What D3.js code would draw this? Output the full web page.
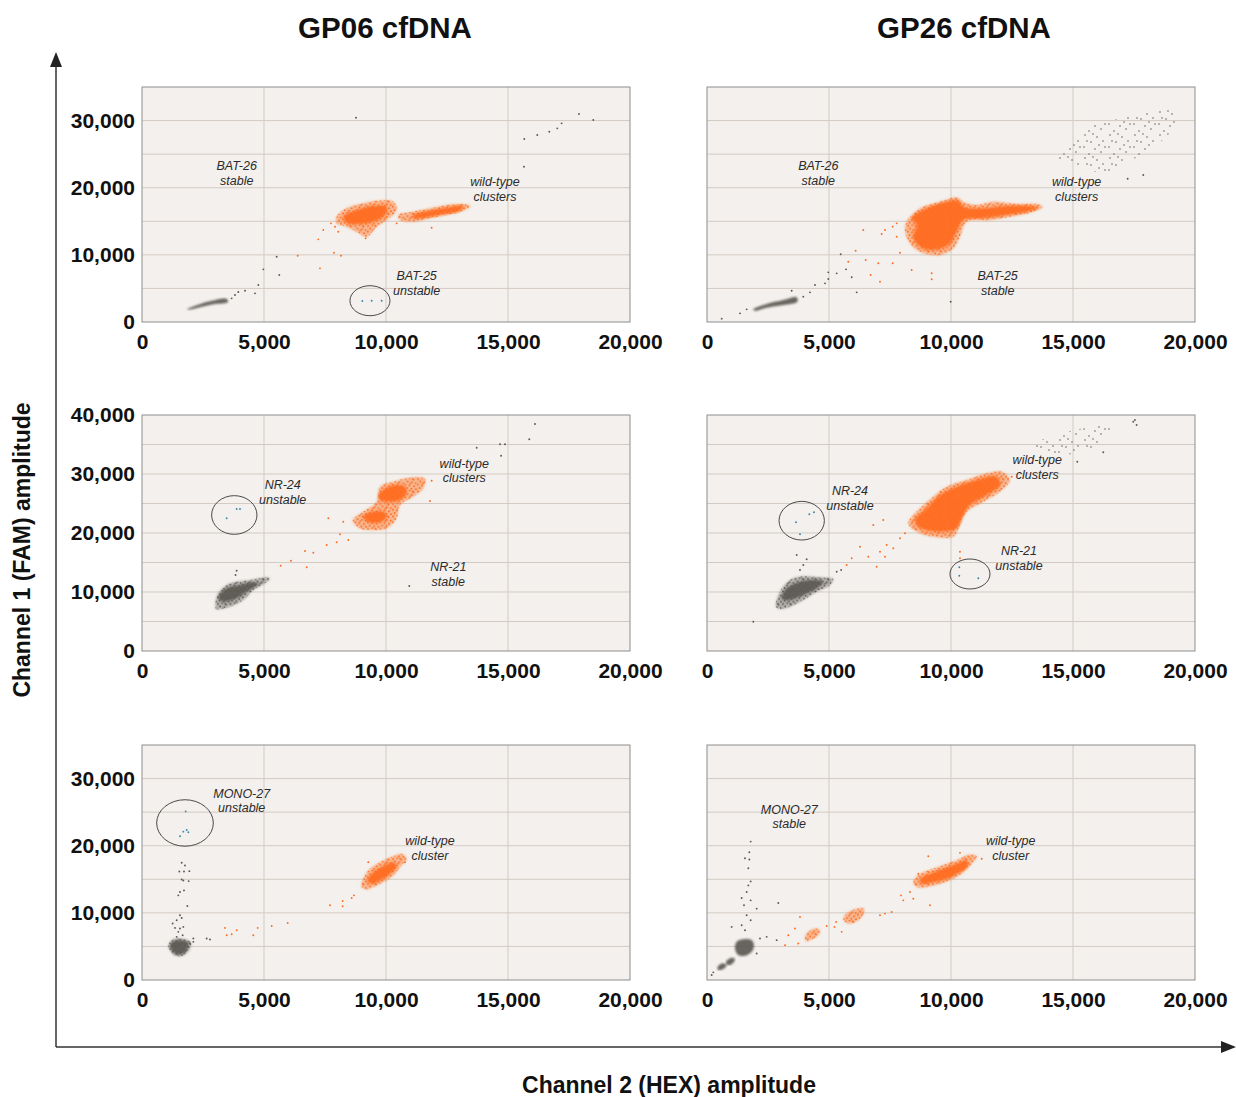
<!DOCTYPE html>
<html>
<head>
<meta charset="utf-8">
<script src="https://cdn.jsdelivr.net/npm/d3@7"></script>
<style>
  body { margin: 0; background: #ffffff; }
  svg { display: block; font-family: "Liberation Sans", Arial, Helvetica, sans-serif; }
  .tick text { font-size: 21px; font-weight: bold; fill: #111; }
  .note { font-size: 12.5px; font-style: italic; fill: #2b2b2b; }
</style>
</head>
<body>
<svg id="chart" width="1236" height="1097"></svg>
<script>
// ddPCR 2D amplitude plots, MSI markers for two cfDNA samples

// Axis values
var columnTitles = ["GP06 cfDNA", "GP26 cfDNA"];
var xTickValues = [0, 5000, 10000, 15000, 20000];
var xMax = 20000;
var rowYMax = [35000, 40000, 35000];
var rowYTicks = [[0, 10000, 20000, 30000], [0, 10000, 20000, 30000, 40000], [0, 10000, 20000, 30000]];
var gridStep = 5000;

// Cluster outlines [HEX, FAM]
// type: wt = wild-type droplets, neg = negative droplets, mut = mutant droplets
// level: sparse / body / core = how dense the droplets are inside the outline
var gp06BatClusters = [
    {type: "neg", level: "core", pts: [[1857,1890],[2240,2485],[2787,3080],[3470,3425],[3525,2978],[2924,2630],[2377,2188],[1940,1840]]},
    {type: "wt", level: "body", pts: [[7978,15680],[8388,16930],[9070,17670],[9617,18060],[10300,17920],[10437,16677],[10027,15188],[9617,14190],[9207,12700],[8798,13450],[8388,14190],[7978,14690]]},
    {type: "wt", level: "core", pts: [[8250,15680],[8798,16677],[9480,17272],[10027,17172],[9958,15932],[9480,14938],[8934,14592],[8388,14790]]},
    {type: "wt", level: "body", pts: [[10504,15932],[11119,16430],[11802,16925],[12485,17421],[13168,17570],[13469,17272],[13168,16575],[12485,15932],[11802,15436],[11119,14938],[10573,15188]]},
    {type: "wt", level: "core", pts: [[11119,15932],[11802,16575],[12485,17019],[13168,17272],[13032,16575],[12348,16081],[11667,15590],[11119,15440]]}
];
var gp26BatClusters = [
    {type: "neg", level: "core", pts: [[1898,1886],[2445,2680],[3128,3276],[3675,3673],[3702,3027],[3128,2531],[2445,2134],[1967,1687]]},
    {type: "neg", level: "sparse", pts: [[13987,24374],[14876,26847],[15216,28589],[16105,29586],[16925,30331],[17880,31075],[18839,31567],[19314,31910],[19248,30331],[18904,27845],[17880,25119],[17199,23630],[16515,22141],[15421,22886],[14397,24226]]},
    {type: "wt", level: "body", pts: [[8184,14935],[8729,16930],[9548,17913],[10233,18567],[10503,17913],[11052,17421],[11733,17913],[12691,17570],[13511,17570],[13757,17168],[13372,16424],[12417,15680],[11597,15188],[10642,14935],[10368,12700],[10093,10974],[9548,9976],[8729,10468],[8319,11718],[8114,13699]]},
    {type: "wt", level: "core", pts: [[8388,15440],[9003,16930],[9823,17913],[10298,18062],[10503,17168],[11323,16930],[12282,17272],[13237,17272],[13577,17019],[13101,16424],[12282,15932],[11323,15440],[10503,15188],[10233,13446],[9889,11465],[9274,10721],[8729,11212],[8454,12700],[8593,14443]]}
];
var gp06NrClusters = [
    {type: "neg", level: "body", pts: [[3033,7119],[3087,9492],[3469,11187],[3879,11746],[4426,12035],[4972,12425],[5245,12323],[5041,11475],[4562,10340],[4152,8645],[3606,7509],[3196,7119]]},
    {type: "neg", level: "core", pts: [[3128,9204],[3469,10628],[4016,11187],[4562,11645],[4766,11357],[4290,10052],[3879,8933],[3401,8357],[3168,8645]]},
    {type: "wt", level: "body", pts: [[8634,22205],[9070,23611],[9618,25306],[9753,27849],[10299,28697],[10983,29374],[11597,29154],[11528,27578],[11118,26154],[10573,24747],[10437,22493],[10028,20797],[9618,20510],[8934,20797]]},
    {type: "wt", level: "core", pts: [[9070,22764],[9343,23510],[9889,23611],[10028,22764],[9753,21815],[9275,21815]]},
    {type: "wt", level: "core", pts: [[9684,26442],[10028,27680],[10437,28137],[10778,27849],[10846,26730],[10573,25595],[10094,25306],[9753,25595]]}
];
var gp26NrClusters = [
    {type: "neg", level: "body", pts: [[2828,7509],[2992,10052],[3401,12035],[3811,12594],[4356,12594],[4905,12425],[5176,12204],[5041,11187],[4496,10052],[3947,8645],[3401,7509],[2992,7119]]},
    {type: "neg", level: "core", pts: [[3061,9204],[3266,10628],[3811,11746],[4356,12035],[4766,11746],[4496,10628],[3947,9492],[3401,8645],[3128,8645]]},
    {type: "neg", level: "sparse", pts: [[13237,34799],[13921,36154],[14741,37172],[15421,37747],[16105,38188],[16650,38307],[16789,37460],[16515,36053],[16105,34629],[15421,34070],[14741,33222],[14192,33510],[13781,34070]]},
    {type: "wt", level: "body", pts: [[8250,21645],[8593,23611],[9274,26154],[9823,27849],[10642,28985],[11462,30121],[12077,30392],[12417,28985],[12007,27002],[11323,25306],[10642,23611],[10368,21357],[10093,19374],[9274,19374],[8729,19950]]},
    {type: "wt", level: "core", pts: [[8524,22205],[9003,24187],[9548,26442],[10233,27849],[11052,28985],[11872,29544],[12007,28137],[11462,26442],[10778,24747],[10503,23052],[10233,20797],[9548,20222],[9003,20510],[8659,21069]]}
];
var gp06MonoClusters = [
    {type: "neg", level: "body", pts: [[1080,5100],[1250,6000],[1650,6150],[2000,5600],[1950,4500],[1720,3700],[1380,3600],[1150,4400]]},
    {type: "neg", level: "core", pts: [[1147,5190],[1284,5784],[1625,5932],[1899,5586],[1858,4697],[1694,3955],[1421,3806],[1216,4449]]},
    {type: "wt", level: "body", pts: [[9003,13837],[9070,15082],[9343,16565],[9753,17544],[10299,18434],[10642,18790],[10846,18048],[10573,16802],[10299,15572],[9889,14578],[9479,13837],[9208,13495]]},
    {type: "wt", level: "core", pts: [[9233,14830],[9479,16061],[9889,16951],[10299,17544],[10437,16951],[10163,15823],[9753,14830],[9413,14340]]}
];
var gp26MonoClusters = [
    {type: "neg", level: "core", pts: [[1147,4697],[1216,5685],[1489,6080],[1831,5932],[1926,5190],[1831,4200],[1557,3608],[1284,3707]]},
    {type: "neg", level: "core", pts: [[779,2719],[1011,3312],[1147,3114],[1052,2471],[833,2225]]},
    {type: "neg", level: "core", pts: [[423,1829],[601,2471],[806,2225],[669,1631],[464,1483]]},
    {type: "wt", level: "body", pts: [[8455,14578],[8729,15823],[9274,16565],[9823,17306],[10368,18048],[10708,18641],[11052,18434],[10847,17306],[10503,16061],[10093,15082],[9548,14340],[9003,13837],[8593,13837]]},
    {type: "wt", level: "core", pts: [[8729,14978],[9139,15823],[9684,16565],[10233,17306],[10642,17796],[10708,17054],[10368,16061],[9823,15082],[9274,14578],[8798,14340]]},
    {type: "wt", level: "body", pts: [[5586,9046],[5725,9891],[6065,10529],[6434,10628],[6380,9640],[6135,8750],[5790,8404]]},
    {type: "wt", level: "body", pts: [[4016,6426],[4151,7168],[4426,7662],[4631,7415],[4561,6674],[4290,6080],[4057,5784]]}
];

// Single droplets [HEX, FAM, type]
var gp06BatDrops = [
    [8770,30420,"neg"],[15654,23125,"neg"],[15668,27250,"neg"],[16200,27845,"neg"],[16692,28340,"neg"],[17020,28840,"neg"],
    [17197,29585,"neg"],[17908,30970,"neg"],[18495,30078,"neg"],[4972,7843,"neg"],[5519,9725,"neg"],[5628,6998,"neg"],
    [4767,5509,"neg"],[4631,4268,"neg"],[4221,4665,"neg"],[3946,4467,"neg"],[3811,4020,"neg"],[3674,3524,"neg"],
    [6380,9875,"wt"],[7294,7990,"wt"],[7226,12310,"wt"],[7431,13700,"wt"],[7745,14690,"wt"],[7868,10320,"wt"],
    [8155,9875,"wt"],[9165,12460,"wt"],[11871,14045,"wt"],[7909,14190,"wt"],[8045,13446,"wt"],[10437,14696,"wt"],
    [9030,3127,"mut"],[9413,3176,"mut"],[9822,3176,"mut"]
];
var gp26BatDrops = [
    [602,496,"neg"],[1352,1290,"neg"],[1626,1886,"neg"],[3470,4665,"neg"],[3947,3772,"neg"],[4221,4417,"neg"],
    [4426,5509,"neg"],[4836,5757,"neg"],[4972,6403,"neg"],[4972,7397,"neg"],[5315,7247,"neg"],[5479,10080,"neg"],
    [6134,4417,"neg"],[5696,7843,"neg"],[5930,6655,"neg"],[9987,3027,"neg"],[17240,21340,"neg"],[17880,21888,"neg"],
    [6406,13699,"wt"],[6093,10617,"wt"],[5790,8979,"wt"],[6503,9232,"wt"],[6708,6998,"wt"],[7090,6001,"wt"],
    [7020,8740,"wt"],[7610,8740,"wt"],[7159,13103,"wt"],[7295,13699,"wt"],[9208,7251,"wt"],[9208,6358,"wt"],
    [8388,7743,"wt"],[7909,10319,"wt"],[7774,12701,"wt"],[7774,14696,"wt"],[7610,14200,"wt"]
];
var gp06NrDrops = [
    [16105,38477,"neg"],[15872,35883,"neg"],[14671,35036,"neg"],[14876,35036,"neg"],[14716,33104,"neg"],[13716,34459,"neg"],
    [10954,11018,"neg"],[3879,13611,"neg"],[3834,12882,"neg"],
    [5684,14459,"wt"],[6106,15306,"wt"],[6680,16950,"wt"],[6748,14187,"wt"],[7021,16662,"wt"],[7569,17967,"wt"],
    [7978,18424,"wt"],[8115,19780,"wt"],[8455,18815,"wt"],[7636,22493,"wt"],[8250,21918,"wt"],[11871,28868,"wt"],
    [11802,25425,"wt"],
    [3469,22493,"mut"],[3879,24069,"mut"],[4016,24069,"mut"]
];
var gp26NrDrops = [
    [3676,16272,"neg"],[4085,15543,"neg"],[3811,13730,"neg"],[3947,14577,"neg"],[1898,4966,"neg"],[5315,13442,"neg"],
    [5497,13730,"neg"],[17470,38866,"neg"],[17607,38307,"neg"],[17539,39154,"neg"],[16241,33680,"neg"],[15175,32086,"neg"],
    [6815,21357,"wt"],[7225,22205,"wt"],[6270,17679,"wt"],[5930,15712,"wt"],[5727,14577,"wt"],[6954,14289,"wt"],
    [7090,16831,"wt"],[7364,17967,"wt"],[7635,17408,"wt"],[7909,19103,"wt"],[8114,19950,"wt"],[7294,15984,"wt"],
    [10368,16831,"wt"],[10368,15712,"wt"],[6610,15984,"wt"],[12486,29544,"wt"],
    [3647,21815,"mut"],[4193,23170,"mut"],[4385,23510,"mut"],[3811,19780,"mut"],
    [10340,14187,"mut"],[10340,12764,"mut"],[11118,12323,"mut"]
];
var gp06MonoDrops = [
    [1626,17453,"neg"],[1762,17054,"neg"],[1530,16165,"neg"],[1721,16165,"neg"],[1940,16214,"neg"],[1626,14978,"neg"],
    [1694,14830,"neg"],[1912,14731,"neg"],[1557,13098,"neg"],[1721,13347,"neg"],[1489,12606,"neg"],[1858,11022,"neg"],
    [1557,9640,"neg"],[1626,9245,"neg"],[1421,8898,"neg"],[1257,8404,"neg"],[1694,7910,"neg"],[1557,7662,"neg"],
    [1352,7761,"neg"],[1489,7168,"neg"],[1666,6674,"neg"],[1421,6426,"neg"],[2104,6179,"neg"],[2650,6179,"neg"],
    [2787,6031,"neg"],[1967,5438,"neg"],[2104,5685,"neg"],
    [3401,7761,"wt"],[3471,6674,"wt"],[3676,6822,"wt"],[3881,7415,"wt"],[4561,6674,"wt"],[4741,7761,"wt"],
    [5315,8053,"wt"],[5971,8498,"wt"],[7704,11123,"wt"],[8225,11760,"wt"],[8225,10974,"wt"],[8594,12205,"wt"],
    [8688,12606,"wt"],[9274,17544,"wt"],[10778,17549,"wt"],
    [1790,25111,"mut"],[1694,22097,"mut"],[1831,22344,"mut"],[1899,21997,"mut"],[1557,21404,"mut"]
];
var gp26MonoDrops = [
    [1790,20614,"neg"],[1735,19027,"neg"],[1557,18137,"neg"],[1735,17944,"neg"],[1694,16654,"neg"],[1790,14682,"neg"],
    [1694,14089,"neg"],[1421,12205,"neg"],[1626,13098,"neg"],[1790,11864,"neg"],[1516,11123,"neg"],[2036,10628,"neg"],
    [1626,9640,"neg"],[1790,8898,"neg"],[1421,8157,"neg"],[1011,7910,"neg"],[1557,7415,"neg"],[2923,11468,"neg"],
    [2172,6179,"neg"],[2445,6426,"neg"],[2855,5932,"neg"],[2036,3955,"neg"],[191,742,"neg"],[259,1137,"neg"],
    [3196,5190,"wt"],[3332,6674,"wt"],[3606,7662,"wt"],[3811,9393,"wt"],[3741,5438,"wt"],[4905,8053,"wt"],
    [5225,7910,"wt"],[5292,8651,"wt"],[5520,7168,"wt"],[7090,9640,"wt"],[7294,9891,"wt"],[7569,10129,"wt"],
    [7950,12606,"wt"],[8045,11864,"wt"],[8455,12112,"wt"],[8319,13098,"wt"],[9070,18440,"wt"],[10368,18937,"wt"],
    [9139,11123,"wt"],[8660,15823,"wt"],[11257,18048,"wt"]
];

// Circled droplets [HEX centre, FAM centre, HEX radius, FAM radius]
var gp06BatRings = [[9343, 3170, 820, 2234]];
var gp26BatRings = [];
var gp06NrRings = [[3783, 23052, 929, 3277]];
var gp26NrRings = [[3881, 22086, 929, 3277], [10778, 13052, 820, 2543]];
var gp06MonoRings = [[1762, 23387, 1161, 3460]];
var gp26MonoRings = [];

// Annotations [HEX, FAM, first line, second line]
var gp06BatNotes = [[3881,23273,"BAT-26","stable"],[14466,20890,"wild-type","clusters"],[11257,6894,"BAT-25","unstable"]];
var gp26BatNotes = [[4561,23273,"BAT-26","stable"],[15150,20890,"wild-type","clusters"],[11913,6894,"BAT-25","stable"]];
var gp06NrNotes = [[5766,28137,"NR-24","unstable"],[13208,31815,"wild-type","clusters"],[12553,14289,"NR-21","stable"]];
var gp26NrNotes = [[5860,27171,"NR-24","unstable"],[13536,32375,"wild-type","clusters"],[12786,17001,"NR-21","unstable"]];
var gp06MonoNotes = [[4086,27836,"MONO-27","unstable"],[11802,20762,"wild-type","cluster"]];
var gp26MonoNotes = [[3373,25463,"MONO-27","stable"],[12446,20762,"wild-type","cluster"]];

// Panel table built from the arrays above
var panels = [
    {row: 0, col: 0, clusters: gp06BatClusters, drops: gp06BatDrops, rings: gp06BatRings, notes: gp06BatNotes},
    {row: 0, col: 1, clusters: gp26BatClusters, drops: gp26BatDrops, rings: gp26BatRings, notes: gp26BatNotes},
    {row: 1, col: 0, clusters: gp06NrClusters, drops: gp06NrDrops, rings: gp06NrRings, notes: gp06NrNotes},
    {row: 1, col: 1, clusters: gp26NrClusters, drops: gp26NrDrops, rings: gp26NrRings, notes: gp26NrNotes},
    {row: 2, col: 0, clusters: gp06MonoClusters, drops: gp06MonoDrops, rings: gp06MonoRings, notes: gp06MonoNotes},
    {row: 2, col: 1, clusters: gp26MonoClusters, drops: gp26MonoDrops, rings: gp26MonoRings, notes: gp26MonoNotes}
];

// Layout
var colLeft = [142, 707];
var colTitleX = [385, 964];
var rowTop = [87, 415, 745];
var rowBottom = [322, 651, 980];
var plotWidth = 488;
var colors = {wt: "#ff6a1c", neg: "#5c5853", mut: "#3c87ae"};
var levelOrder = {sparse: 0, body: 1, core: 2};

var svg = d3.select("#chart");
var defs = svg.append("defs");

// Dot textures for the droplet clouds (irregular spots so no grid shows)
var bodySpots = [[1,1.5],[5.2,0.6],[9.1,2.2],[3.1,4.1],[7.4,4.8],[11.2,5.6],[0.8,7.2],[4.9,8.1],
    [9.6,8.9],[2.6,10.6],[6.9,11.3],[11.5,11.8],[8.2,1.3],[5.8,6.1]];
var sparseSpots = [[3,2],[15,4],[9,9],[21,8],[2,14],[13,16],[19,19],[7,21],[23,14],[11,1],[5,8],[17,12]];
Object.keys(colors).forEach(function(t) {
    var body = defs.append("pattern").attr("id", "body-" + t)
        .attr("patternUnits", "userSpaceOnUse").attr("width", 12.5).attr("height", 12.5);
    bodySpots.forEach(function(p) {
        body.append("circle").attr("cx", p[0]).attr("cy", p[1]).attr("r", 0.9).attr("fill", colors[t]);
    });
    var sparse = defs.append("pattern").attr("id", "sparse-" + t)
        .attr("patternUnits", "userSpaceOnUse").attr("width", 25).attr("height", 23);
    sparseSpots.forEach(function(p) {
        sparse.append("circle").attr("cx", p[0]).attr("cy", p[1]).attr("r", 0.75).attr("fill", colors[t]);
    });
});
defs.append("filter").attr("id", "soft")
    .append("feGaussianBlur").attr("stdDeviation", 0.9);

// Column titles
svg.selectAll("text.title").data(columnTitles).enter().append("text")
    .attr("class", "title")
    .attr("x", function(d, i) { return colTitleX[i]; })
    .attr("y", 38)
    .attr("text-anchor", "middle")
    .style("font-size", "29.5px").style("font-weight", "bold").style("fill", "#111")
    .text(function(d) { return d; });

panels.forEach(function(p) {
    var h = rowBottom[p.row] - rowTop[p.row];
    var yMax = rowYMax[p.row];
    var x = d3.scaleLinear().domain([0, xMax]).range([0, plotWidth]);
    var y = d3.scaleLinear().domain([0, yMax]).range([h, 0]);

    var g = svg.append("g")
        .attr("transform", "translate(" + colLeft[p.col] + "," + rowTop[p.row] + ")");

    // Plot background
    g.append("rect").attr("width", plotWidth).attr("height", h).attr("fill", "#f3f0ed");

    // Grid
    g.selectAll("line.gx").data(d3.range(gridStep, xMax, gridStep)).enter().append("line")
        .attr("x1", function(d) { return x(d); }).attr("x2", function(d) { return x(d); })
        .attr("y1", 0).attr("y2", h)
        .attr("stroke", "#d3cbc3").attr("stroke-width", 1);
    g.selectAll("line.gy").data(d3.range(gridStep, yMax, gridStep)).enter().append("line")
        .attr("y1", function(d) { return y(d); }).attr("y2", function(d) { return y(d); })
        .attr("x1", 0).attr("x2", plotWidth)
        .attr("stroke", "#d3cbc3").attr("stroke-width", 1);

    // Droplet clouds
    var outline = d3.line()
        .x(function(d) { return x(d[0]); })
        .y(function(d) { return y(d[1]); })
        .curve(d3.curveCatmullRomClosed.alpha(0.5));
    var sorted = p.clusters.slice().sort(function(a, b) { return levelOrder[a.level] - levelOrder[b.level]; });
    sorted.forEach(function(c) {
        if (c.level == "body") {
            g.append("path").attr("d", outline(c.pts))
                .attr("fill", colors[c.type]).attr("fill-opacity", 0.45)
                .attr("filter", "url(#soft)");
            g.append("path").attr("d", outline(c.pts)).attr("fill", "url(#body-" + c.type + ")");
        }
        else if (c.level == "sparse") {
            g.append("path").attr("d", outline(c.pts)).attr("fill", "url(#sparse-" + c.type + ")");
        }
        else {
            g.append("path").attr("d", outline(c.pts))
                .attr("fill", colors[c.type]).attr("fill-opacity", 0.92)
                .attr("filter", "url(#soft)");
        }
    });

    // Single droplets
    g.selectAll("circle.drop").data(p.drops).enter().append("circle")
        .attr("class", "drop")
        .attr("cx", function(d) { return x(d[0]); })
        .attr("cy", function(d) { return y(d[1]); })
        .attr("r", 0.95)
        .attr("fill", function(d) { return colors[d[2]]; });

    // Rings around rare droplets
    g.selectAll("ellipse.ring").data(p.rings).enter().append("ellipse")
        .attr("cx", function(d) { return x(d[0]); })
        .attr("cy", function(d) { return y(d[1]); })
        .attr("rx", function(d) { return x(d[2]) - x(0); })
        .attr("ry", function(d) { return y(0) - y(d[3]); })
        .attr("fill", "none").attr("stroke", "#4a4a4a").attr("stroke-width", 1);

    // Annotations
    var note = g.selectAll("text.note").data(p.notes).enter().append("text")
        .attr("class", "note")
        .attr("text-anchor", "middle")
        .attr("x", function(d) { return x(d[0]); })
        .attr("y", function(d) { return y(d[1]) + 4.5; });
    note.append("tspan").text(function(d) { return d[2]; });
    note.append("tspan")
        .attr("x", function(d) { return x(d[0]); })
        .attr("dy", 14.5)
        .text(function(d) { return d[3]; });

    // Frame
    g.append("rect").attr("width", plotWidth).attr("height", h)
        .attr("fill", "none").attr("stroke", "#8e8e8e").attr("stroke-width", 1);

    // Axes
    var xAxis = g.append("g").attr("transform", "translate(0," + h + ")")
        .call(d3.axisBottom(x).tickValues(xTickValues).tickFormat(d3.format(",")).tickSize(0).tickPadding(12));
    xAxis.select(".domain").remove();

    if (p.col == 0) {
        var yAxis = g.append("g")
            .call(d3.axisLeft(y).tickValues(rowYTicks[p.row]).tickFormat(d3.format(",")).tickSize(0).tickPadding(7));
        yAxis.select(".domain").remove();
    }
});

// Outer axis arrows
svg.append("line").attr("x1", 56).attr("y1", 1047).attr("x2", 56).attr("y2", 64)
    .attr("stroke", "#333").attr("stroke-width", 1.5);
svg.append("path").attr("d", "M56,52L50,67L62,67Z").attr("fill", "#222");
svg.append("line").attr("x1", 56).attr("y1", 1047).attr("x2", 1224).attr("y2", 1047)
    .attr("stroke", "#333").attr("stroke-width", 1.5);
svg.append("path").attr("d", "M1236,1047L1221,1041L1221,1053Z").attr("fill", "#222");

// Axis titles
svg.append("text")
    .attr("x", 669).attr("y", 1093)
    .attr("text-anchor", "middle")
    .style("font-size", "23px").style("font-weight", "bold").style("fill", "#111")
    .text("Channel 2 (HEX) amplitude");
svg.append("text")
    .attr("transform", "translate(30,550) rotate(-90)")
    .attr("text-anchor", "middle")
    .style("font-size", "23px").style("font-weight", "bold").style("fill", "#111")
    .text("Channel 1 (FAM) amplitude");
</script>
</body>
</html>
